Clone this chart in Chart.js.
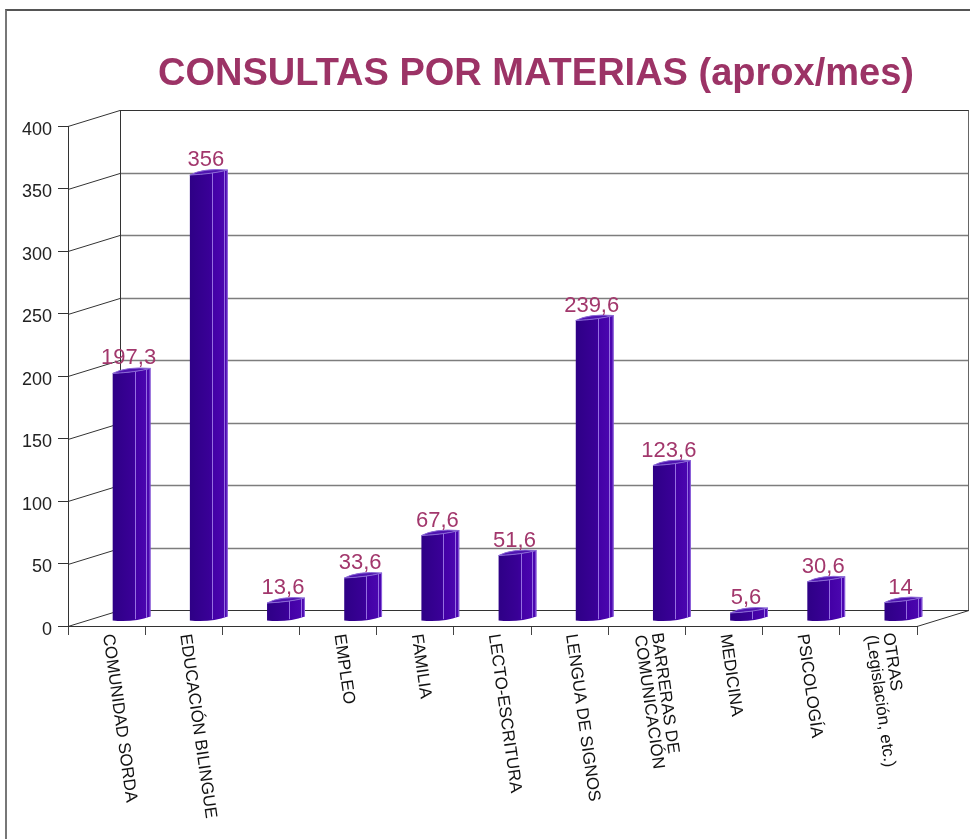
<!DOCTYPE html>
<html lang="es">
<head>
  <meta charset="UTF-8" />
  <title>Consultas por materias (aprox/mes)</title>
  <style>
    html, body { margin: 0; padding: 0; background: #fff; overflow: hidden; }
    #wrap { position: relative; width: 970px; height: 839px; }
    #frame {
      position: absolute; left: 5px; top: 9px; width: 1000px; height: 900px;
      border-left: 2px solid #777; border-top: 2px solid #555;
      pointer-events: none;
    }
  </style>
  <script src="https://cdn.jsdelivr.net/npm/chart.js"></script>
</head>
<body>
  <div id="wrap">
    <canvas id="chart" width="970" height="839"></canvas>
    <div id="frame"></div>
  </div>

  <script>
    // --- data ---
    const TITLE = 'CONSULTAS POR MATERIAS (aprox/mes)';
    const materias = [
      ['COMUNIDAD SORDA'],
      ['EDUCACIÓN BILINGUE'],
      [''],
      ['EMPLEO'],
      ['FAMILIA'],
      ['LECTO-ESCRITURA'],
      ['LENGUA DE SIGNOS'],
      ['BARRERAS DE', 'COMUNICACIÓN'],
      ['MEDICINA'],
      ['PSICOLOGÍA'],
      ['OTRAS', '(Legislación, etc.)']
    ];
    const consultas = [197.3, 356, 13.6, 33.6, 67.6, 51.6, 239.6, 123.6, 5.6, 30.6, 14];
    const yTicks = [0, 50, 100, 150, 200, 250, 300, 350, 400];

    // --- fake 3D settings ---
    const DEPTH_X = 52, DEPTH_Y = -16;   // back wall offset
    const BAR_DX = 25, BAR_DY = -6;      // bars sit a bit inside the box
    const FONT = "'Liberation Sans', Arial, sans-serif";

    function fmt(v) { return String(v).replace('.', ','); }

    // walls, back grid and the depth lines
    const wallsPlugin = {
      id: 'walls',
      beforeDatasetsDraw(chart) {
        const { ctx, chartArea: a, scales: { y } } = chart;
        ctx.save();
        ctx.lineWidth = 1;
        yTicks.forEach(v => {
          const fy = Math.round(y.getPixelForValue(v)) + 0.5;
          const by = fy + DEPTH_Y;
          ctx.strokeStyle = (v === 0 || v === 400) ? '#333' : '#7d7d7d';
          ctx.lineWidth = (v === 0 || v === 400) ? 1.2 : 1.5;
          ctx.beginPath();
          ctx.moveTo(a.left + DEPTH_X, by);
          ctx.lineTo(a.right + DEPTH_X, by);
          ctx.stroke();
          ctx.strokeStyle = '#333';
          ctx.lineWidth = 1;
          ctx.beginPath();
          ctx.moveTo(a.left, fy);
          ctx.lineTo(a.left + DEPTH_X, by);
          ctx.stroke();
        });
        const top = Math.round(y.getPixelForValue(400)) + 0.5 + DEPTH_Y;
        const bot = Math.round(y.getPixelForValue(0)) + 0.5 + DEPTH_Y;
        ctx.strokeStyle = '#333';
        ctx.beginPath();
        ctx.moveTo(a.left + DEPTH_X + 0.5, top);
        ctx.lineTo(a.left + DEPTH_X + 0.5, bot);
        ctx.stroke();
        ctx.strokeStyle = '#666';
        ctx.beginPath();
        ctx.moveTo(a.right + DEPTH_X - 0.5, top);
        ctx.lineTo(a.right + DEPTH_X - 0.5, bot);
        ctx.stroke();
        // floor, right side
        ctx.strokeStyle = '#333';
        ctx.beginPath();
        ctx.moveTo(a.right, a.bottom + 0.5);
        ctx.lineTo(a.right + DEPTH_X, bot);
        ctx.stroke();
        ctx.restore();
      }
    };

    // bars drawn as purple "cylinders" from the bar elements, plus values and x labels
    const barsPlugin = {
      id: 'bars3d',
      afterDatasetsDraw(chart) {
        const { ctx, scales: { x } } = chart;
        const meta = chart.getDatasetMeta(0);
        ctx.save();
        meta.data.forEach((bar, i) => {
          const p = bar.getProps(['x', 'y', 'base', 'width'], true);
          const w = p.width;
          const xl = p.x - w / 2 + BAR_DX, xr = xl + w;
          const top = p.y + BAR_DY - 2, bot = p.base + BAR_DY + 1;

          const g = ctx.createLinearGradient(xl, 0, xr, 0);
          g.addColorStop(0, '#2e0086');
          g.addColorStop(0.5, '#390096');
          g.addColorStop(0.58, '#3c009c');
          g.addColorStop(0.6, '#4300a6');
          g.addColorStop(1, '#4d08b2');

          // body
          ctx.beginPath();
          ctx.moveTo(xl, top + 2);
          ctx.lineTo(xl, bot);
          ctx.quadraticCurveTo(xl + w * 0.55, bot + 2, xr, bot - 4);
          ctx.lineTo(xr, top - 3);
          ctx.quadraticCurveTo(xl + w * 0.6, top + 1, xl, top + 2);
          ctx.closePath();
          ctx.fillStyle = g;
          ctx.fill();

          // light edges
          ctx.strokeStyle = 'rgba(165,130,235,0.85)';
          ctx.lineWidth = 1;
          [0.58, 0.89].forEach(f => {
            const lx = Math.round(xl + w * f) + 0.5;
            ctx.beginPath();
            ctx.moveTo(lx, top + 1 - 4 * f);
            ctx.lineTo(lx, bot - 4 * f + 1);
            ctx.stroke();
          });
          ctx.strokeStyle = 'rgba(150,110,225,0.9)';
          ctx.beginPath();
          ctx.moveTo(xr - 0.5, top - 3);
          ctx.lineTo(xr - 0.5, bot - 4);
          ctx.stroke();

          // top cap
          ctx.beginPath();
          ctx.moveTo(xl, top + 2);
          ctx.quadraticCurveTo(xl + w * 0.35, top - 5, xr, top - 3);
          ctx.quadraticCurveTo(xl + w * 0.6, top + 1, xl, top + 2);
          ctx.closePath();
          ctx.fillStyle = '#4f14b0';
          ctx.fill();
          ctx.strokeStyle = '#8a68d6';
          ctx.stroke();

          // value label
          ctx.fillStyle = '#a2376c';
          ctx.font = '22px ' + FONT;
          ctx.textAlign = 'center';
          ctx.textBaseline = 'alphabetic';
          ctx.fillText(fmt(consultas[i]), xl + w / 2 - 3, top - 7);
        });

        // category labels, turned clockwise
        ctx.fillStyle = '#111';
        ctx.font = '17px ' + FONT;
        ctx.textAlign = 'left';
        ctx.textBaseline = 'middle';
        materias.forEach((lines, i) => {
          const cx = x.getPixelForValue(i) + 1;
          ctx.save();
          ctx.translate(cx, 634);
          ctx.rotate(82 * Math.PI / 180);
          lines.forEach((t, j) => {
            ctx.fillText(t, 0, (j - (lines.length - 1) / 2) * 17);
          });
          ctx.restore();
        });
        ctx.restore();
      },
      afterDraw(chart) {
        const { ctx } = chart;
        ctx.save();
        ctx.fillStyle = '#9c3366';
        ctx.font = 'bold 38px ' + FONT;
        ctx.textAlign = 'center';
        ctx.textBaseline = 'alphabetic';
        ctx.fillText(TITLE, 536, 85);
        ctx.restore();
      }
    };

    new Chart(document.getElementById('chart'), {
      type: 'bar',
      data: {
        labels: materias,
        datasets: [{
          data: consultas,
          backgroundColor: 'rgba(0,0,0,0)',
          borderWidth: 0,
          categoryPercentage: 1,
          barPercentage: 0.49
        }]
      },
      options: {
        responsive: false,
        animation: false,
        layout: { padding: { top: 126, right: 53, left: 0, bottom: 0 } },
        plugins: {
          legend: { display: false },
          tooltip: { enabled: false },
          title: { display: false }
        },
        scales: {
          x: {
            ticks: { display: false },
            grid: { offset: true, drawOnChartArea: false, tickLength: 9, color: '#444' },
            border: { color: '#333' },
            afterFit: s => { s.height = 213; }
          },
          y: {
            min: 0, max: 400,
            ticks: { stepSize: 50, color: '#222', font: { family: FONT, size: 18 }, padding: 6, labelOffset: 4 },
            grid: { drawOnChartArea: false, tickLength: 10, color: '#333' },
            border: { color: '#333' },
            afterFit: s => { s.width = 68; }
          }
        }
      },
      plugins: [wallsPlugin, barsPlugin]
    });
  </script>
</body>
</html>
